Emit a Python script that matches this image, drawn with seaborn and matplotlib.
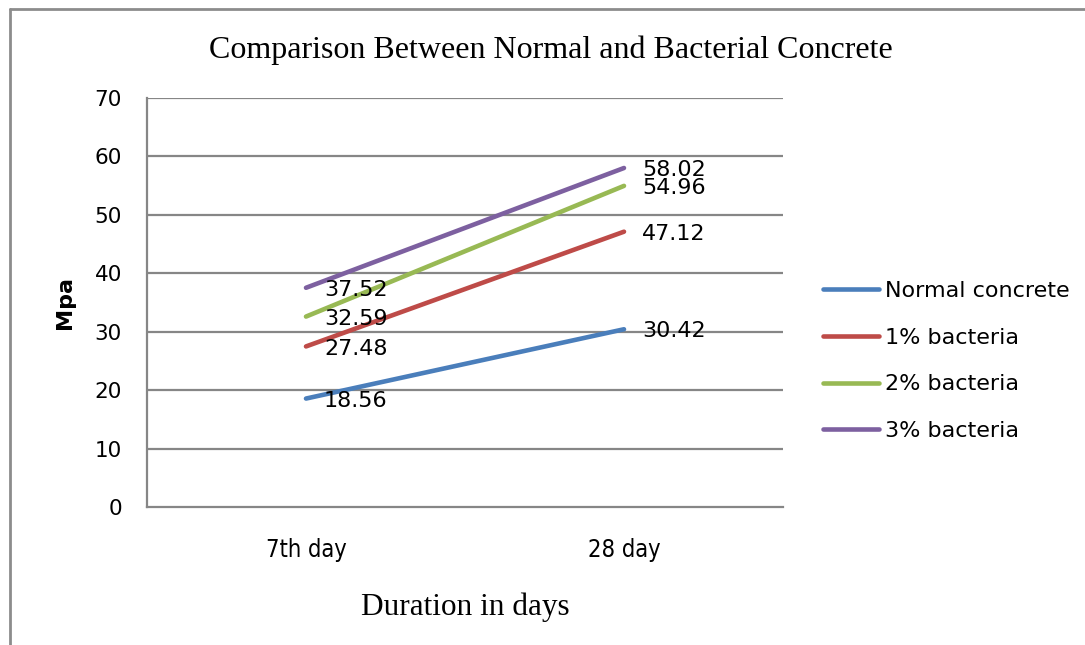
import numpy as np
import pandas as pd
import matplotlib
matplotlib.use("Agg")
import matplotlib.pyplot as plt
from matplotlib.lines import Line2D
import seaborn as sns

# ---- data ----
days = ["7th day", "28 day"]
series_names = ["Normal concrete", "1% bacteria", "2% bacteria", "3% bacteria"]
normal_concrete = [18.56, 30.42]
bacteria_1 = [27.48, 47.12]
bacteria_2 = [32.59, 54.96]
bacteria_3 = [37.52, 58.02]
y_ticks = [0, 10, 20, 30, 40, 50, 60, 70]

colors = ["#4A7EBB", "#BE4B48", "#98B954", "#7D60A0"]

values = [normal_concrete, bacteria_1, bacteria_2, bacteria_3]
rows = []
for name, vals in zip(series_names, values):
    for i, (d, v) in enumerate(zip(days, vals)):
        rows.append({"Series": name, "Day": d, "pos": i, "Mpa": v})
df = pd.DataFrame(rows)

sns.set_style("white")
plt.rcParams["font.family"] = ["DejaVu Sans"]
plt.rcParams["text.color"] = "black"
plt.rcParams["axes.labelcolor"] = "black"
plt.rcParams["xtick.color"] = "black"
plt.rcParams["ytick.color"] = "black"

fig = plt.figure(figsize=(10.85, 6.45), dpi=100)
ax = fig.add_axes([147 / 1085, 1 - 507 / 645, (783 - 147) / 1085, (507 - 98) / 645])

sns.lineplot(data=df, x="pos", y="Mpa", hue="Series", hue_order=series_names,
             palette=colors, linewidth=3.3, ax=ax, legend=False,
             solid_capstyle="round")

grid_c = "#868686"
ax.set_xlim(-0.5, 1.5)
ax.set_ylim(0, 70)
ax.set_yticks(y_ticks)
ax.set_yticklabels([str(t) for t in y_ticks], fontsize=15.5)
ax.set_xticks(range(len(days)))
ax.set_xticklabels(days, fontsize=17, fontstretch="condensed")
ax.tick_params(axis="y", length=0, pad=18)
ax.tick_params(axis="x", length=0, pad=22)
for t in y_ticks[1:]:
    ax.axhline(t, color=grid_c, lw=1.6, zorder=0)
for s in ["top", "right"]:
    ax.spines[s].set_visible(False)
for s in ["left", "bottom"]:
    ax.spines[s].set_color(grid_c)
    ax.spines[s].set_linewidth(1.6)

ax.set_xlabel("Duration in days", family="Liberation Serif", fontsize=22.5, labelpad=22)
ax.set_ylabel("Mpa", fontsize=16, fontweight="bold", labelpad=14)

# data labels
for name, vals in zip(series_names, values):
    for i, v in enumerate(vals):
        ax.annotate(f"{v:.2f}", xy=(i, v), xytext=(13, -1.5), textcoords="offset points",
                    ha="left", va="center", fontsize=16, color="black")

fig.text(551 / 1085, 1 - 50 / 645, "Comparison Between Normal and Bacterial Concrete",
         family="Liberation Serif", fontsize=23, ha="center", va="center")

handles = [Line2D([0], [0], color=c, lw=3.3, solid_capstyle="round") for c in colors]
fig.legend(handles, series_names, loc="center left",
           bbox_to_anchor=(823 / 1085, 1 - 361 / 645), frameon=False,
           fontsize=16, handlelength=2.5, handletextpad=0.3, labelspacing=1.2,
           borderpad=0, borderaxespad=0)

# outer chart border (top and left visible)
fig.add_artist(Line2D([10 / 1085, 1.0], [1 - 9 / 645, 1 - 9 / 645], color="#8C8C8C", lw=2,
                      transform=fig.transFigure))
fig.add_artist(Line2D([10 / 1085, 10 / 1085], [0, 1 - 9 / 645], color="#8C8C8C", lw=2,
                      transform=fig.transFigure))

fig.savefig("out.png", dpi=100)
